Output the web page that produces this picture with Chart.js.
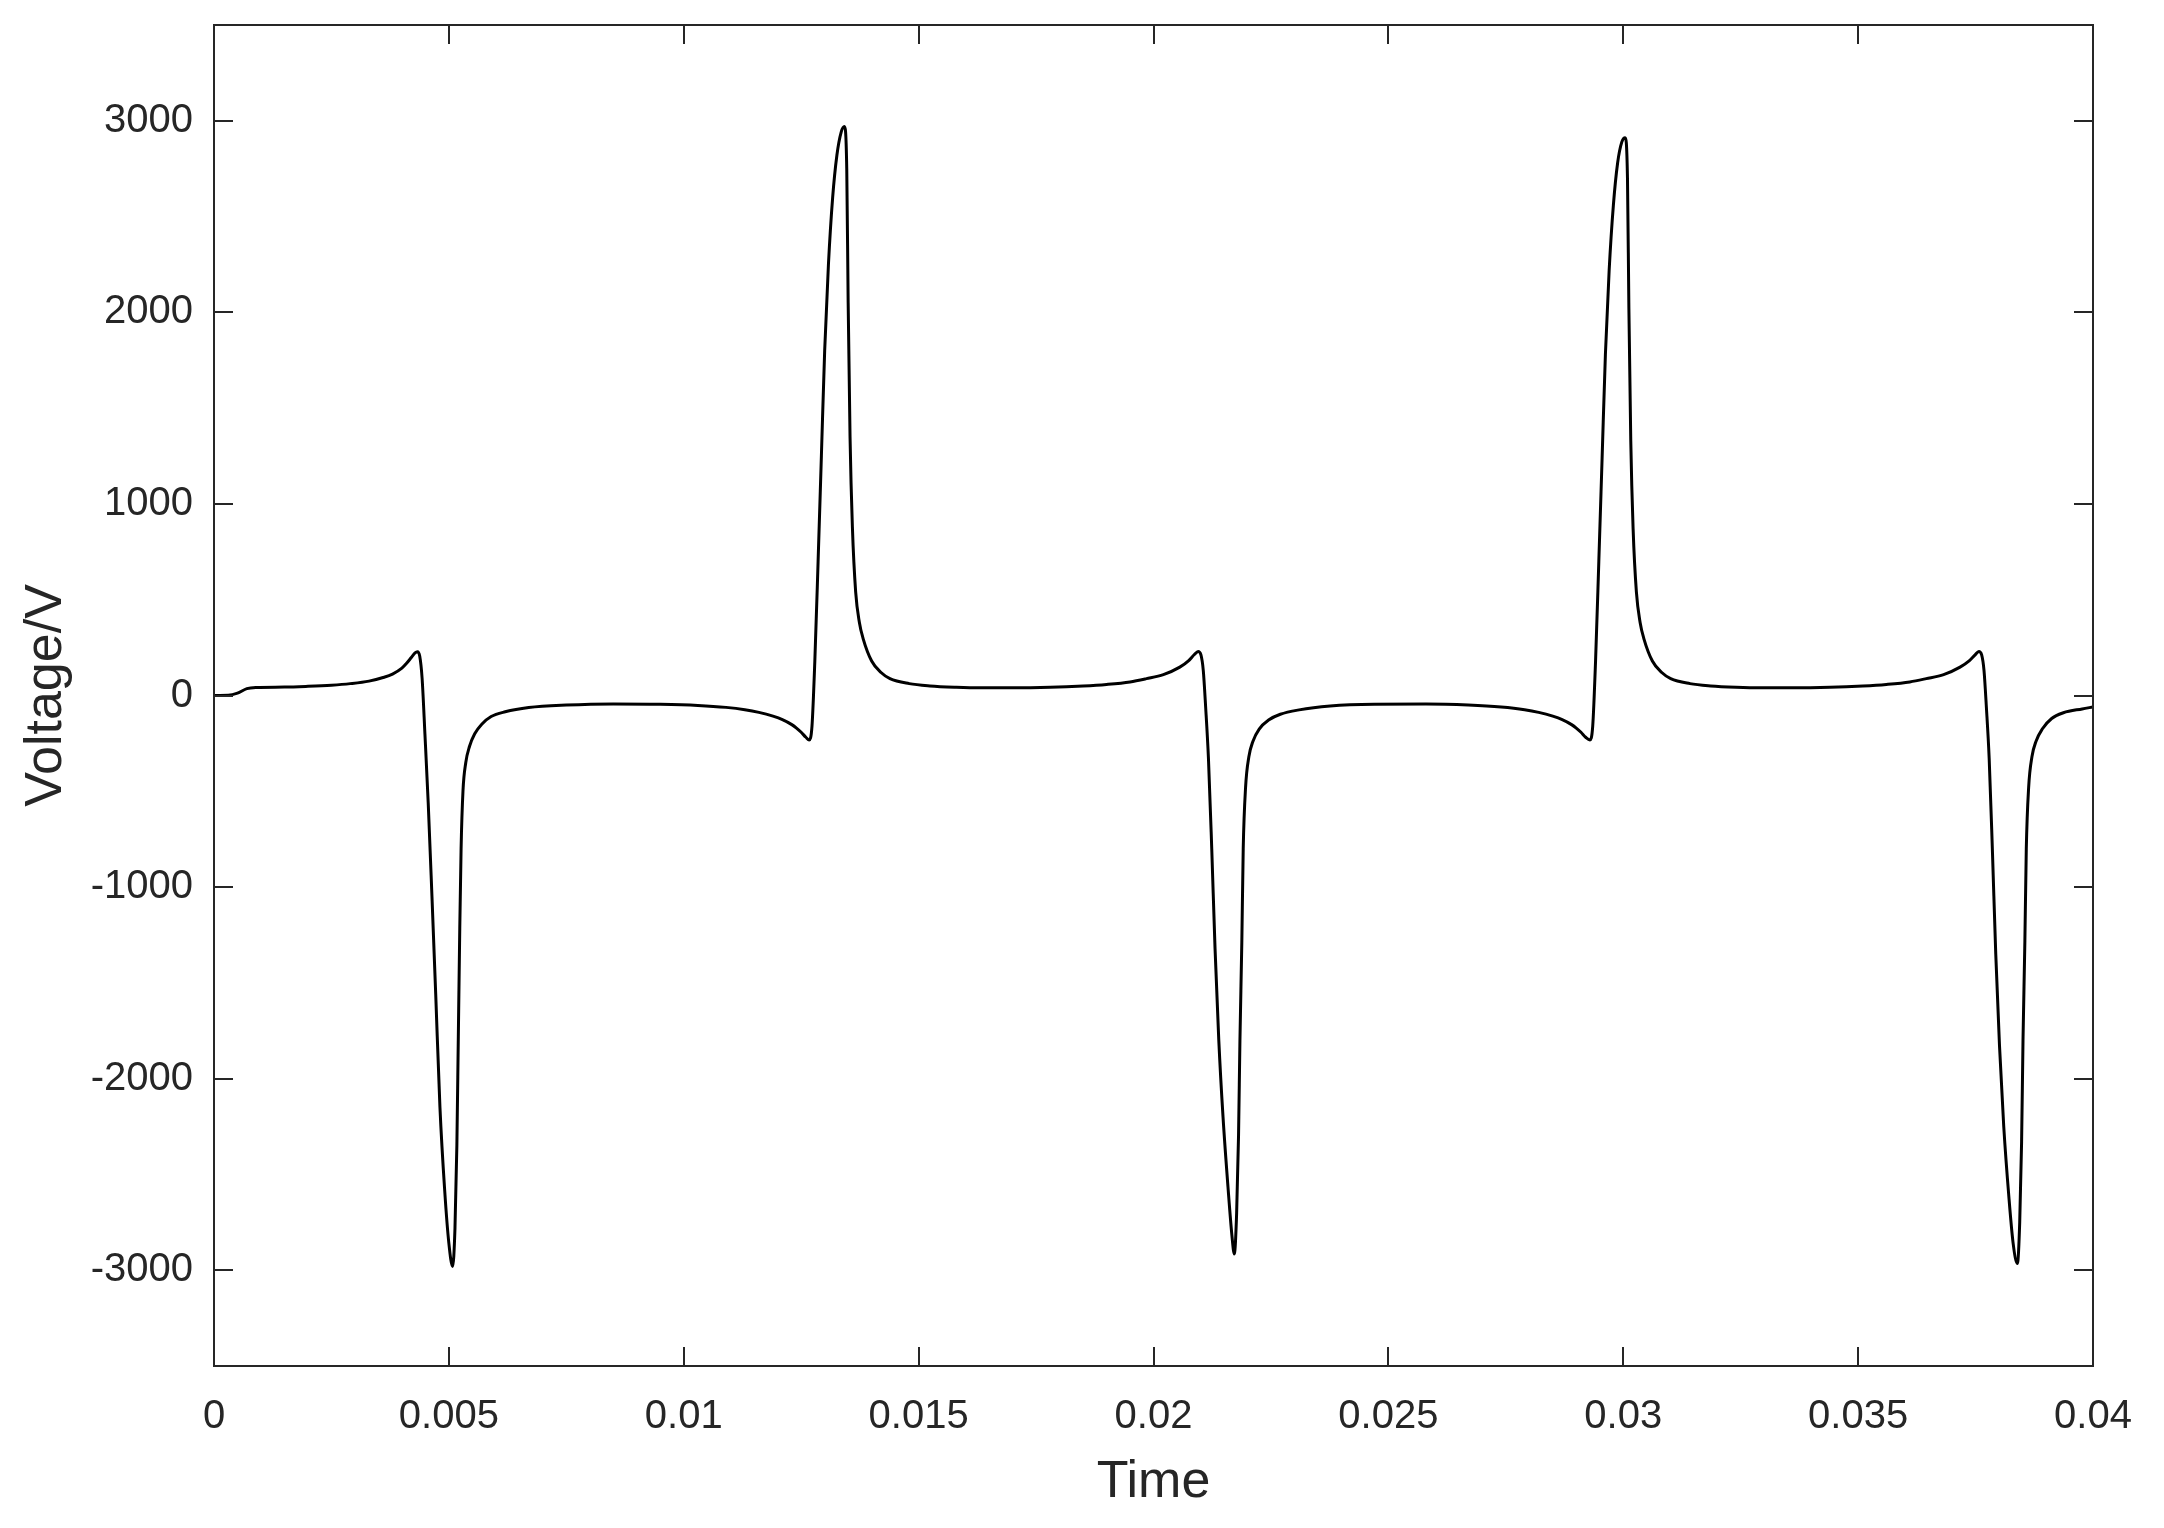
<!DOCTYPE html>
<html>
<head>
<meta charset="utf-8">
<script src="https://cdn.jsdelivr.net/npm/chart.js@4.4.1/dist/chart.umd.min.js"></script>
<style>
  html, body { margin: 0; padding: 0; background: #ffffff; }
  #wrap { width: 2164px; height: 1528px; }
</style>
</head>
<body>
<div id="wrap"><canvas id="c" width="2164" height="1528"></canvas></div>
<script>
// ---- data ----
const timeValues = [
  0, 0.0003, 0.0005, 0.0007, 0.0009, 0.0015, 0.002, 0.0025, 0.0029, 0.0033,
  0.0036, 0.0038, 0.004, 0.0041, 0.0042, 0.00428, 0.00433, 0.00438, 0.00443, 0.00449,
  0.00456, 0.00464, 0.00472, 0.00481, 0.00491, 0.005, 0.00508, 0.00513, 0.00517, 0.0052,
  0.00523, 0.00526, 0.0053, 0.00536, 0.00544, 0.00555, 0.0057, 0.0059, 0.0062, 0.0067,
  0.0075, 0.0085, 0.0095, 0.0103, 0.0109, 0.0113, 0.0116, 0.0119, 0.0121, 0.0123,
  0.0124, 0.0125, 0.0126, 0.01267, 0.01273, 0.01279, 0.01286, 0.01293, 0.013, 0.01308,
  0.01317, 0.01326, 0.01335, 0.01342, 0.01347, 0.0135, 0.01354, 0.01359, 0.01366, 0.01374,
  0.01382, 0.014, 0.0142, 0.01439, 0.0148, 0.01524, 0.0158, 0.01631, 0.017, 0.0178,
  0.0185, 0.019, 0.0195, 0.01985, 0.02021, 0.02056, 0.02075, 0.02087, 0.02095, 0.02101,
  0.02106, 0.02111, 0.02117, 0.02124, 0.02131, 0.02139, 0.02148, 0.02159, 0.02167, 0.02172,
  0.02177, 0.02181, 0.02184, 0.02188, 0.02191, 0.02196, 0.02203, 0.02212, 0.02225, 0.02245,
  0.0227, 0.0231, 0.02376, 0.0247, 0.0258, 0.0267, 0.0274, 0.0279, 0.0282, 0.0285,
  0.0287, 0.0289, 0.029, 0.0291, 0.0292, 0.02929, 0.02935, 0.02941, 0.02948, 0.02955,
  0.02962, 0.0297, 0.02979, 0.02988, 0.02997, 0.03004, 0.03009, 0.03012, 0.03016, 0.03021,
  0.03028, 0.03036, 0.03044, 0.03062, 0.03082, 0.03101, 0.03142, 0.03186, 0.0324, 0.03293,
  0.0336, 0.0344, 0.0351, 0.0356, 0.0361, 0.03645, 0.03682, 0.03717, 0.03737, 0.03749,
  0.03757, 0.03763, 0.03768, 0.03773, 0.03779, 0.03786, 0.03793, 0.03801, 0.0381, 0.03821,
  0.0383, 0.03839, 0.03844, 0.03848, 0.03851, 0.03855, 0.03858, 0.03863, 0.0387, 0.03879,
  0.03892, 0.03912, 0.03937, 0.03977, 0.04
];
const voltageValues = [
  0, 1, 12, 36, 42, 44, 48, 54, 62, 75,
  94, 112, 143, 168, 198, 222, 228, 205, 90, -200,
  -560, -1050, -1560, -2150, -2580, -2860, -2980, -2780, -2350, -1800,
  -1250, -800, -500, -350, -265, -200, -150, -110, -85, -63,
  -50, -44, -46, -52, -62, -74, -88, -108, -126, -152,
  -170, -192, -218, -232, -160, 177, 700, 1250, 1800, 2250,
  2600, 2820, 2940, 2970, 2750, 2050, 1350, 880, 540, 380,
  296, 180, 120, 88, 62, 50, 43, 40, 40, 43,
  50, 58, 71, 88, 109, 148, 182, 214, 230, 212,
  130, -60, -330, -800, -1320, -1800, -2200, -2580, -2820, -2915,
  -2700, -2300, -1800, -1290, -800, -480, -320, -237, -175, -128,
  -98, -75, -55, -46, -45, -50, -60, -74, -88, -108,
  -126, -152, -170, -192, -218, -232, -160, 177, 700, 1240,
  1780, 2220, 2560, 2780, 2890, 2912, 2700, 2020, 1330, 870,
  540, 380, 296, 180, 120, 88, 62, 50, 43, 40,
  40, 43, 50, 58, 71, 88, 109, 148, 182, 212,
  230, 212, 130, -60, -330, -820, -1350, -1830, -2250, -2620,
  -2860, -2965, -2750, -2330, -1800, -1280, -800, -480, -320, -237,
  -175, -120, -90, -70, -60
];
const xTickValues = [0, 0.005, 0.01, 0.015, 0.02, 0.025, 0.03, 0.035, 0.04];
const xTickLabels = ['0', '0.005', '0.01', '0.015', '0.02', '0.025', '0.03', '0.035', '0.04'];
const yTickValues = [-3000, -2000, -1000, 0, 1000, 2000, 3000];
const yTickLabels = ['-3000', '-2000', '-1000', '0', '1000', '2000', '3000'];
const xTitle = 'Time';
const yTitle = 'Voltage/V';

// ---- chart ----
const AXIS_COLOR = '#262626';
const FONT = '"Liberation Sans", Arial, Helvetica, sans-serif';
const TICK_LEN = 19;

const boxPlugin = {
  id: 'boxAndInwardTicks',
  afterDatasetsDraw(chart) {
    const { ctx, chartArea: a, scales } = chart;
    const xs = scales.x, ys = scales.y;
    ctx.save();
    ctx.strokeStyle = AXIS_COLOR;
    ctx.lineWidth = 2;
    ctx.lineCap = 'butt';
    ctx.beginPath();
    xs.ticks.forEach(t => {
      const px = Math.round(xs.getPixelForValue(t.value));
      ctx.moveTo(px, a.bottom); ctx.lineTo(px, a.bottom - TICK_LEN);
      ctx.moveTo(px, a.top); ctx.lineTo(px, a.top + TICK_LEN);
    });
    ys.ticks.forEach(t => {
      const py = Math.round(ys.getPixelForValue(t.value));
      ctx.moveTo(a.left, py); ctx.lineTo(a.left + TICK_LEN, py);
      ctx.moveTo(a.right, py); ctx.lineTo(a.right - TICK_LEN, py);
    });
    ctx.stroke();
    ctx.strokeRect(a.left, a.top, a.right - a.left, a.bottom - a.top);
    ctx.restore();
  }
};

const points = timeValues.map((t, i) => ({ x: t, y: voltageValues[i] }));

new Chart(document.getElementById('c'), {
  type: 'line',
  data: {
    datasets: [{
      data: points,
      borderColor: '#000000',
      borderWidth: 3,
      pointRadius: 0,
      fill: false,
      cubicInterpolationMode: 'monotone'
    }]
  },
  options: {
    responsive: false,
    animation: false,
    devicePixelRatio: 1,
    layout: { padding: { left: 0, right: 71, top: 25, bottom: 0 } },
    plugins: { legend: { display: false }, tooltip: { enabled: false } },
    scales: {
      x: {
        type: 'linear',
        min: 0,
        max: 0.04,
        afterBuildTicks: s => { s.ticks = xTickValues.map(v => ({ value: v })); },
        afterFit: s => { s.height = 162; s.paddingLeft = 0; s.paddingRight = 0; },
        grid: { display: false, drawTicks: false },
        border: { display: false },
        ticks: {
          padding: 27,
          color: AXIS_COLOR,
          font: { family: FONT, size: 40 },
          maxRotation: 0,
          autoSkip: false,
          callback: v => {
            const i = xTickValues.findIndex(t => Math.abs(t - v) < 1e-9);
            return i >= 0 ? xTickLabels[i] : '';
          }
        },
        title: {
          display: true,
          text: xTitle,
          color: AXIS_COLOR,
          font: { family: FONT, size: 52 },
          padding: { top: 0, bottom: 14 }
        }
      },
      y: {
        type: 'linear',
        min: -3500,
        max: 3500,
        afterBuildTicks: s => { s.ticks = yTickValues.map(v => ({ value: v })); },
        afterFit: s => { s.width = 214; s.paddingTop = 0; s.paddingBottom = 0; },
        grid: { display: false, drawTicks: false },
        border: { display: false },
        ticks: {
          padding: 21,
          color: AXIS_COLOR,
          font: { family: FONT, size: 40 },
          autoSkip: false,
          callback: v => {
            const i = yTickValues.indexOf(v);
            return i >= 0 ? yTickLabels[i] : '';
          }
        },
        title: {
          display: true,
          text: yTitle,
          color: AXIS_COLOR,
          font: { family: FONT, size: 52 },
          padding: { top: 15, bottom: 0 }
        }
      }
    }
  },
  plugins: [boxPlugin]
});
</script>
</body>
</html>
